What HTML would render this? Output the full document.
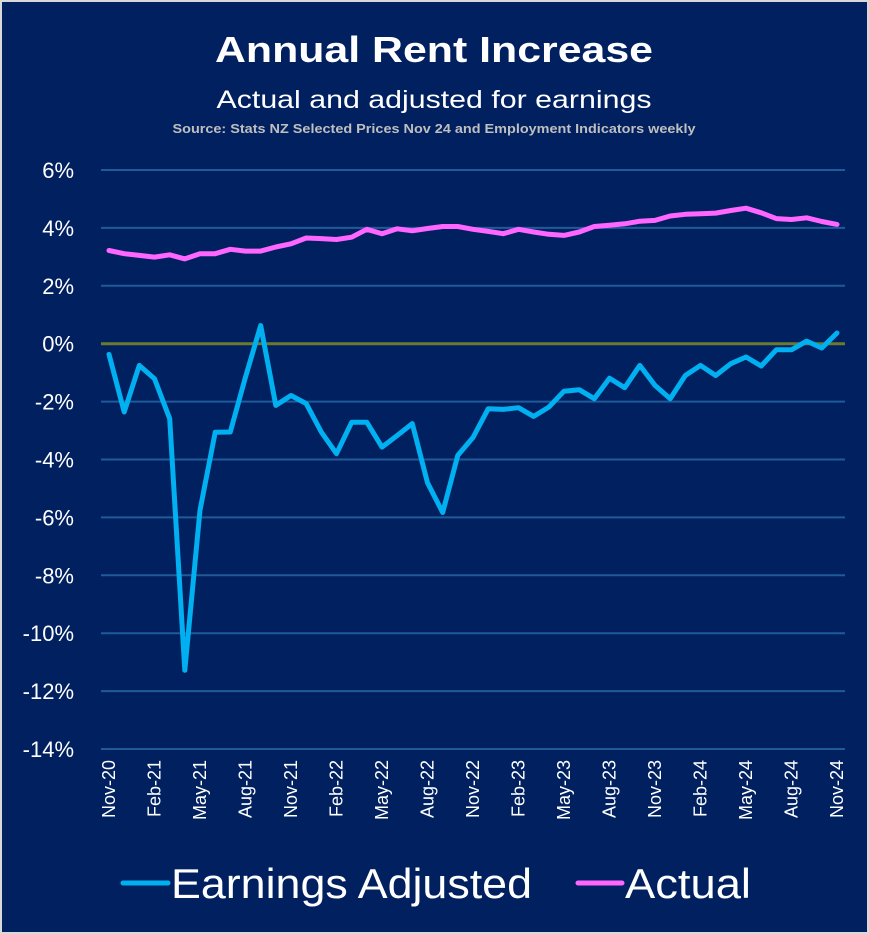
<!DOCTYPE html>
<html><head><meta charset="utf-8"><style>
html,body{margin:0;padding:0;background:#d9d9d9;}
svg{display:block;font-family:"Liberation Sans",sans-serif;}
</style></head><body>
<svg id="chart" width="869" height="934" viewBox="0 0 869 934" xmlns="http://www.w3.org/2000/svg">
<rect x="0" y="0" width="869" height="934" fill="#d9d9d9"/>
<rect x="2" y="2" width="865" height="930" fill="#002060"/>
<text x="434" y="62" text-anchor="middle" font-size="36" font-weight="bold" fill="#fff" textLength="438" lengthAdjust="spacingAndGlyphs">Annual Rent Increase</text>
<text x="434" y="108" text-anchor="middle" font-size="25" fill="#fff" textLength="435" lengthAdjust="spacingAndGlyphs">Actual and adjusted for earnings</text>
<text x="434" y="133" text-anchor="middle" font-size="13" font-weight="bold" fill="#bfbfbf" textLength="523" lengthAdjust="spacingAndGlyphs">Source: Stats NZ Selected Prices Nov 24 and Employment Indicators weekly</text>
<g id="grid"></g><g id="yt"></g><g id="xt"></g><g id="series"></g>
<g>
<line x1="123" y1="883" x2="168" y2="883" stroke="#00b0f0" stroke-width="5" stroke-linecap="round"/>
<text x="171" y="898" font-size="42" fill="#fff" textLength="361" lengthAdjust="spacingAndGlyphs">Earnings Adjusted</text>
<line x1="578" y1="883" x2="622" y2="883" stroke="#ff66ff" stroke-width="5" stroke-linecap="round"/>
<text x="625" y="898" font-size="42" fill="#fff" textLength="126" lengthAdjust="spacingAndGlyphs">Actual</text>
</g>
</svg>
<script>
const yTicks=[6,4,2,0,-2,-4,-6,-8,-10,-12,-14];
const xLabels=["Nov-20","Feb-21","May-21","Aug-21","Nov-21","Feb-22","May-22","Aug-22","Nov-22","Feb-23","May-23","Aug-23","Nov-23","Feb-24","May-24","Aug-24","Nov-24"];
const actual=[3.22,3.11,3.05,2.99,3.07,2.93,3.11,3.11,3.26,3.2,3.2,3.34,3.45,3.65,3.63,3.6,3.68,3.95,3.8,3.97,3.9,3.98,4.05,4.05,3.95,3.88,3.8,3.95,3.86,3.78,3.74,3.86,4.05,4.09,4.14,4.23,4.26,4.41,4.47,4.49,4.51,4.6,4.68,4.52,4.32,4.29,4.35,4.22,4.12];
const earnings=[-0.37,-2.36,-0.75,-1.21,-2.59,-11.28,-5.75,-3.06,-3.05,-1.15,0.63,-2.13,-1.79,-2.07,-3.05,-3.8,-2.71,-2.71,-3.57,-3.17,-2.76,-4.8,-5.83,-3.86,-3.24,-2.25,-2.27,-2.21,-2.51,-2.19,-1.64,-1.59,-1.9,-1.19,-1.52,-0.75,-1.44,-1.9,-1.1,-0.75,-1.1,-0.69,-0.46,-0.77,-0.21,-0.21,0.09,-0.15,0.37];
const NS="http://www.w3.org/2000/svg";
const x0=109,x1=837,yTop=170,yBot=749,vMax=6,vMin=-14;
const n=actual.length;
function X(i){return x0+(x1-x0)*i/(n-1);}
function Y(v){return yTop+(vMax-v)*(yBot-yTop)/(vMax-vMin);}
function mk(t,a,p){const e=document.createElementNS(NS,t);for(const k in a)e.setAttribute(k,a[k]);p.appendChild(e);return e;}
const grid=document.getElementById('grid'),yt=document.getElementById('yt'),xt=document.getElementById('xt'),ser=document.getElementById('series');
yTicks.forEach(v=>{
 const l=mk('line',{x1:101,x2:845,y1:Y(v),y2:Y(v),stroke:v===0?'#6b7a2e':'#1f5b9a','stroke-width':v===0?3:2},grid);
 
 
 const t=mk('text',{x:74,y:Y(v)+8,'text-anchor':'end','font-size':22,fill:'#fff'},yt);
 t.textContent=v+'%';
 
 
});
xLabels.forEach((s,k)=>{
 const x=X(k*3);
 const t=mk('text',{transform:`translate(${x+6},760) rotate(-90)`,'text-anchor':'end','font-size':18,fill:'#fff'},xt);
 t.textContent=s;
 
 
});
function line(arr,col,name){
 const d=arr.map((v,i)=>(i?'L':'M')+X(i).toFixed(1)+','+Y(v).toFixed(1)).join('');
 const p=mk('path',{d:d,fill:'none',stroke:col,'stroke-width':5,'stroke-linejoin':'round','stroke-linecap':'round'},ser);
 
 
}
line(actual,'#ff66ff','actual-line');
line(earnings,'#00b0f0','earnings-adjusted-line');
</script>
</body></html>
